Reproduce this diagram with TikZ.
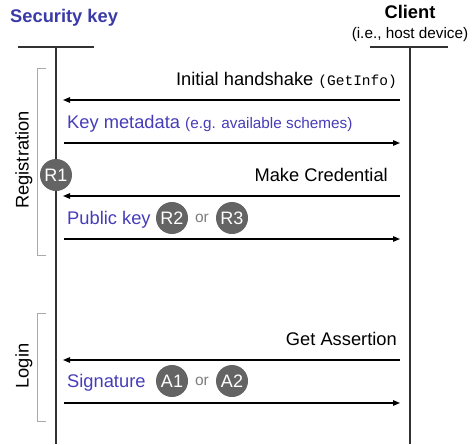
\documentclass[tikz,border=0pt]{standalone}
\usepackage{fontspec}
\setmainfont{Liberation Sans}
\newfontfamily\monof{Liberation Mono}
\usetikzlibrary{arrows.meta}
\definecolor{titleblue}{RGB}{58,58,168}
\definecolor{textblue}{RGB}{70,60,185}
\definecolor{circgray}{RGB}{100,100,100}
\definecolor{orgray}{RGB}{125,125,125}
\definecolor{brgray}{RGB}{170,170,170}
\definecolor{lifegray}{RGB}{50,50,50}
\begin{document}
\begin{tikzpicture}[x=1pt,y=-1pt,
  big/.style={font=\fontsize{18.3}{20}\selectfont, inner sep=0pt},
  small/.style={font=\fontsize{15.3}{17}\selectfont, inner sep=0pt},
  lifeline/.style={draw=lifegray, line width=1.5pt},
  msg/.style={draw=black, line width=1.2pt, -{Triangle[length=7pt,width=5.5pt]}},
  badge/.style={circle, fill=circgray, text=white, minimum size=32pt, inner sep=0pt, font=\fontsize{18}{20}\selectfont},
  orlbl/.style={text=orgray, font=\fontsize{15.5}{17}\selectfont, inner sep=0pt},
  bracket/.style={draw=brgray, line width=1pt}
]
\useasboundingbox (0,0) rectangle (473,444);
% headers
\node[big, font=\fontsize{18.3}{20}\selectfont\bfseries, text=titleblue, anchor=base west] (skt) at (10,22.5) {Security key};
\node[big, font=\fontsize{18.3}{20}\selectfont\bfseries, anchor=base] (clt) at (410,19) {Client};
\node[small, anchor=base] (clsub) at (410,39) {(i.e., host device)};
% lifeline heads and lifelines
\coordinate (skL) at (18,47); \coordinate (skR) at (94,47);
\coordinate (clL) at (370,47); \coordinate (clR) at (448,47);
\coordinate (skTop) at (56,47); \coordinate (skBot) at (56,444);
\coordinate (clTop) at (410,47); \coordinate (clBot) at (410,444);
\draw[lifeline] (skL) -- (skR);
\draw[lifeline] (clL) -- (clR);
\draw[lifeline] (skTop) -- (skBot);
\draw[lifeline] (clTop) -- (clBot);
% brackets
\coordinate (rb1) at (46,68); \coordinate (rb2) at (37,68); \coordinate (rb3) at (37,255); \coordinate (rb4) at (46,255);
\draw[bracket] (rb1) -- (rb2) -- (rb3) -- (rb4);
\coordinate (lb1) at (46,313); \coordinate (lb2) at (37,313); \coordinate (lb3) at (37,421); \coordinate (lb4) at (46,421);
\draw[bracket] (lb1) -- (lb2) -- (lb3) -- (lb4);
\node[big, rotate=90] (reg) at (24,160) {Registration};
\node[big, rotate=90] (login) at (24,366) {Login};
% message endpoints
\coordinate (m1s) at (400,100); \coordinate (m1e) at (63,100);
\coordinate (m2s) at (64,143); \coordinate (m2e) at (400,143);
\coordinate (m3s) at (400,196); \coordinate (m3e) at (63,196);
\coordinate (m4s) at (64,239); \coordinate (m4e) at (400,239);
\coordinate (m5s) at (400,360); \coordinate (m5e) at (63,360);
\coordinate (m6s) at (64,403); \coordinate (m6e) at (400,403);
\draw[msg] (m1s) -- (m1e);
\draw[msg] (m2s) -- (m2e);
\draw[msg] (m3s) -- (m3e);
\draw[msg] (m4s) -- (m4e);
\draw[msg] (m5s) -- (m5e);
\draw[msg] (m6s) -- (m6e);
% labels
\node[big, anchor=base east] (l1) at (397,85.5) {Initial handshake {\monof\fontsize{14.5}{17}\selectfont(GetInfo)}};
\node[big, anchor=base west, text=textblue] (l2) at (67,128.5) {Key metadata {\fontsize{15.3}{17}\selectfont(e.g. available schemes)}};
\node[big, anchor=base east] (l3) at (388,181.5) {Make Credential};
\node[big, anchor=base west, text=textblue] (l4) at (67,224.5) {Public key};
\node[big, anchor=base east] (l5) at (397,345.5) {Get Assertion};
\node[big, anchor=base west, text=textblue] (l6) at (67,387.5) {Signature};
% badges
\node[badge] (r1) at (56,175) {R1};
\node[badge] (r2) at (172,218) {R2};
\node[orlbl] (or1) at (202,218) {or};
\node[badge] (r3) at (232,218) {R3};
\node[badge] (a1) at (172,381) {A1};
\node[orlbl] (or2) at (202,381) {or};
\node[badge] (a2) at (232,381) {A2};
\end{tikzpicture}
\end{document}
